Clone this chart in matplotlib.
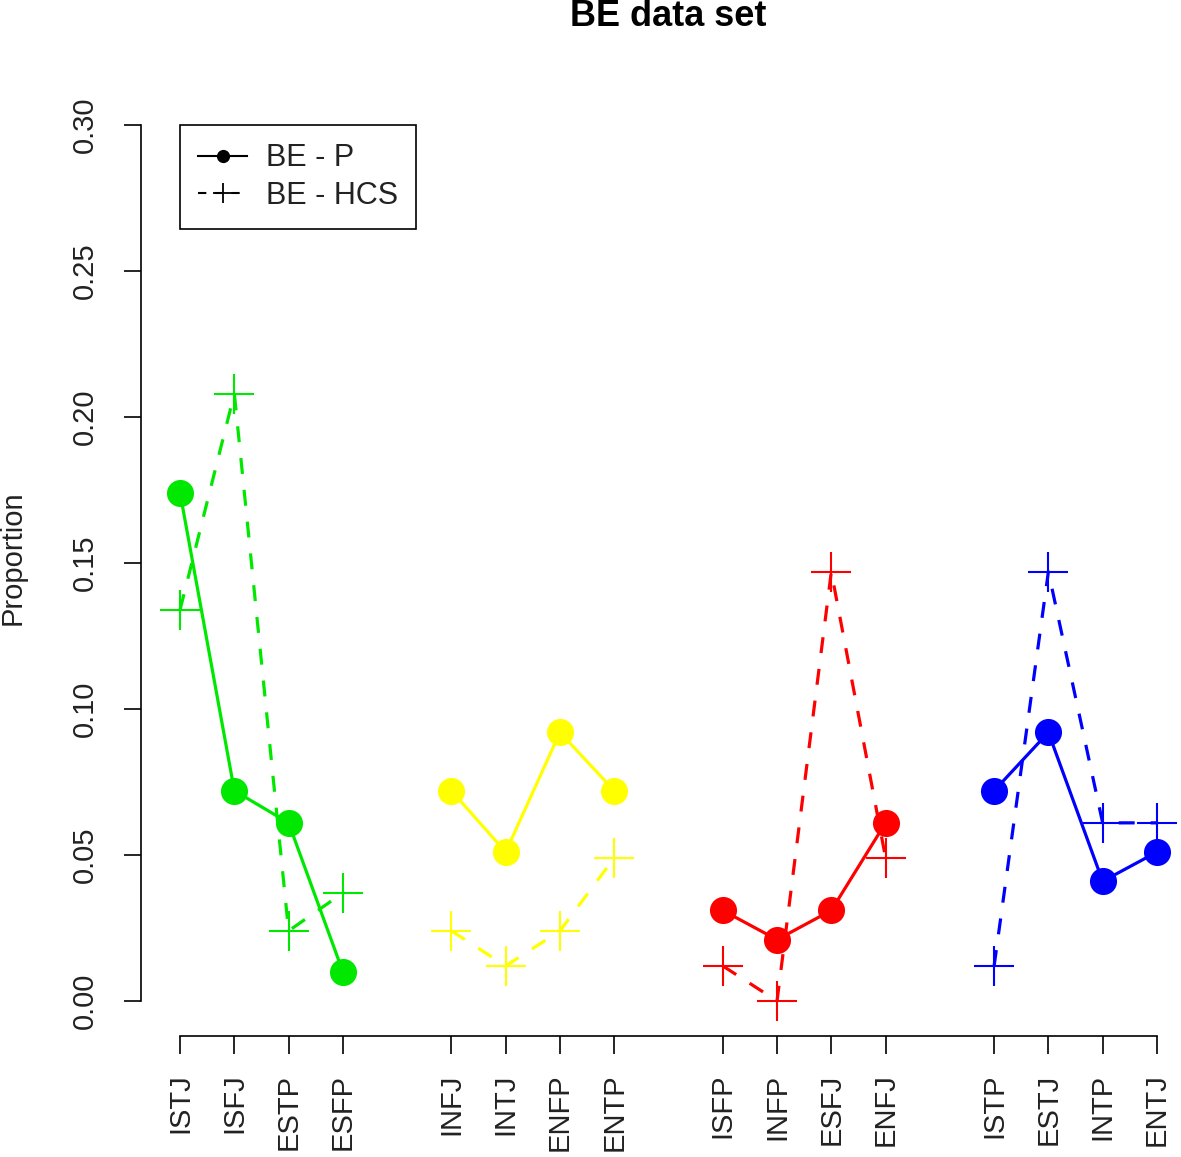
import matplotlib
matplotlib.use("Agg")
import matplotlib.pyplot as plt
from matplotlib.lines import Line2D

plt.rcParams['font.family'] = ['Liberation Sans', 'DejaVu Sans']

# ---- data ----
categories = ["ISTJ", "ISFJ", "ESTP", "ESFP",
              "INFJ", "INTJ", "ENFP", "ENTP",
              "ISFP", "INFP", "ESFJ", "ENFJ",
              "ISTP", "ESTJ", "INTP", "ENTJ"]
be_p = [0.174, 0.072, 0.061, 0.010,
        0.072, 0.051, 0.092, 0.072,
        0.031, 0.021, 0.031, 0.061,
        0.072, 0.092, 0.041, 0.051]
be_hcs = [0.134, 0.208, 0.024, 0.037,
          0.024, 0.012, 0.024, 0.049,
          0.012, 0.000, 0.147, 0.049,
          0.012, 0.147, 0.061, 0.061]
group_colors = ["#00E800", "#FFFF00", "#FF0000", "#0000FF"]
yticks = [0.00, 0.05, 0.10, 0.15, 0.20, 0.25, 0.30]
ytick_labels = ["0.00", "0.05", "0.10", "0.15", "0.20", "0.25", "0.30"]
title = "BE data set"
ylabel = "Proportion"
legend_labels = ["BE - P", "BE - HCS"]

# ---- figure ----
W, H = 1181, 1157
fig = plt.figure(figsize=(W / 100, H / 100), dpi=100)
ax = fig.add_axes([141 / W, (H - 1036) / H, 1055 / W, 946 / H])

group_size = 4
positions = []
for idx in range(len(categories)):
    g = idx // group_size
    positions.append(g * (group_size + 1) + (idx % group_size) + 1)

for g, col in enumerate(group_colors):
    sl = slice(g * group_size, (g + 1) * group_size)
    xs = positions[sl]
    ax.plot(xs, be_hcs[sl], color=col, lw=2.3, linestyle=(0, (5, 5)),
            marker='+', markersize=29, markeredgewidth=1.5, zorder=2)
for g, col in enumerate(group_colors):
    sl = slice(g * group_size, (g + 1) * group_size)
    xs = positions[sl]
    ax.plot(xs, be_p[sl], color=col, lw=2.3, linestyle='-',
            marker='o', markersize=19.5, markeredgewidth=0, zorder=3)

ax.set_xlim(0.28, 19.72)
ax.set_ylim(-0.012, 0.312)

for s in ['top', 'right']:
    ax.spines[s].set_visible(False)
ax.spines['left'].set_bounds(0, 0.30)
ax.spines['bottom'].set_bounds(positions[0], positions[-1])
for s in ['left', 'bottom']:
    ax.spines[s].set_linewidth(1.2)

ax.set_yticks(yticks)
ax.set_yticklabels(ytick_labels)
ax.set_xticks(positions)
ax.set_xticklabels(categories)
ax.tick_params(axis='y', length=12.2, width=1.2, pad=18, labelsize=21,
               labelrotation=90, colors='black', labelcolor='#222222')
ax.tick_params(axis='x', length=13, width=1.2, pad=14, labelsize=21,
               labelrotation=90, colors='black', labelcolor='#222222')
for t in ax.get_yticklabels():
    t.set_va('center')
    t.set_ha('right')
for t in ax.get_xticklabels():
    t.set_ha('center')
    t.set_va('top')

fig.text(668 / W, 1 - 16 / H, title, ha='center', va='center',
         fontsize=26, fontweight='bold')
fig.text(13 / W, 1 - 558 / H, ylabel, ha='center', va='center',
         rotation=90, fontsize=21, color='#222222')

handles = [
    Line2D([], [], color='black', lw=1.5, linestyle='-', marker='o',
           markersize=9.5, markeredgewidth=0),
    Line2D([], [], color='black', lw=1.5, linestyle=(0, (4, 4)), marker='+',
           markersize=14, markeredgewidth=1.3),
]
leg = ax.legend(handles, legend_labels, loc='upper left',
                bbox_to_anchor=(positions[0], 0.30),
                bbox_transform=ax.transData, borderaxespad=0,
                fontsize=22, frameon=True, fancybox=False, framealpha=1,
                edgecolor='black', borderpad=0.6, handlelength=1.6,
                handletextpad=0.6, labelspacing=0.25, numpoints=1)
leg.get_frame().set_linewidth(1.2)
for t in leg.get_texts():
    t.set_color('#222222')

fig.savefig("out.png", dpi=100)
